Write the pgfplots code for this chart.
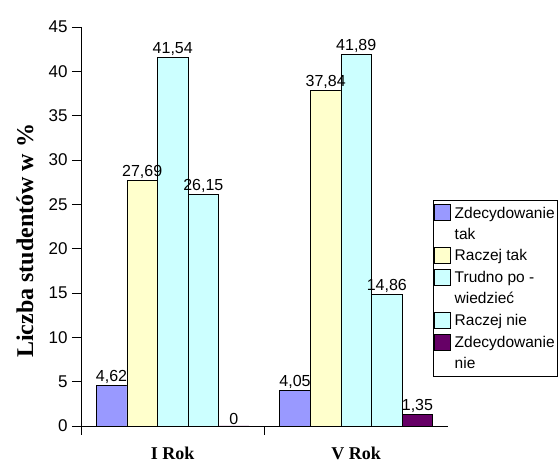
\documentclass[border=0pt]{standalone}
\usepackage{pgfplots}
\pgfplotsset{compat=1.18}
\usepackage{fontspec}
\setmainfont{Liberation Sans}
\newfontfamily\timesfont{Liberation Serif}
\definecolor{c1}{HTML}{9999FF}
\definecolor{c2}{HTML}{FFFFCC}
\definecolor{c3}{HTML}{CCFFFF}
\definecolor{c4}{HTML}{CCFFFF}
\definecolor{c5}{HTML}{660066}
\begin{document}
\begin{tikzpicture}
\begin{axis}[
  at={(0,0)}, anchor=origin,
  scale only axis, width=367pt, height=399pt,
  xmin=0, xmax=2, ymin=0, ymax=45,
  axis lines*=left, axis line style={-, black, line width=0.6pt},
  ytick={0,5,...,45},
  yticklabel style={font=\fontsize{17}{17}\selectfont, xshift=-1pt},
  /pgf/number format/assume math mode=true,
  tick align=outside, major tick length=9pt,
  tick style={black, line width=0.6pt},
  xtick={0,1}, xticklabels={},
  extra x ticks={0.5,1.5},
  extra x tick labels={I Rok, V Rok},
  extra x tick style={tick style={draw=none}, xticklabel style={font=\timesfont\bfseries\fontsize{18}{18}\selectfont, yshift=-8.5pt}},
  ylabel={\timesfont\bfseries\fontsize{24}{24}\selectfont Liczba studentów w \%},
  ylabel style={at={(axis description cs:-0.153,0.464)}, anchor=center},
  ybar, bar width=30.6pt,
  every axis plot/.append style={draw=black, line width=0.5pt},
  nodes near coords={\pgfmathprintnumber[use comma,fixed,precision=2,assume math mode=true]{\pgfplotspointmeta}},
  every node near coord/.append style={font=\fontsize{16}{16}\selectfont, inner sep=1.5pt, black},
  clip=false,
  legend style={at={(axis description cs:0.959,0.566)}, anchor=north west,
    draw=black, line width=0.5pt, font=\fontsize{15.5}{15.5}\selectfont,
    row sep=4.5pt, column sep=2pt, inner xsep=1pt, inner ysep=4pt,
    cells={anchor=west}},
  legend image code/.code={\draw[#1, line width=0.5pt] (0pt,-7.5pt) rectangle (16pt,8.5pt);},
]
\addplot[fill=c1, bar shift=-61.2pt, forget plot] coordinates {(0.5,4.62) (1.5,4.05)};
\addplot[fill=c2, bar shift=-30.6pt, forget plot] coordinates {(0.5,27.69) (1.5,37.84)};
\addplot[fill=c3, bar shift=0pt, forget plot] coordinates {(0.5,41.54) (1.5,41.89)};
\addplot[fill=c4, bar shift=30.6pt, forget plot] coordinates {(0.5,26.15) (1.5,14.86)};
\addplot[fill=c5, bar shift=61.2pt, forget plot] coordinates {(0.5,0) (1.5,1.35)};
\addlegendimage{fill=c1, draw=black}\addlegendentry{Zdecydowanie}
\addlegendimage{empty legend}\addlegendentry{tak}
\addlegendimage{fill=c2, draw=black}\addlegendentry{Raczej tak}
\addlegendimage{fill=c3, draw=black}\addlegendentry{Trudno po -}
\addlegendimage{empty legend}\addlegendentry{wiedzieć}
\addlegendimage{fill=c4, draw=black}\addlegendentry{Raczej nie}
\addlegendimage{fill=c5, draw=black}\addlegendentry{Zdecydowanie}
\addlegendimage{empty legend}\addlegendentry{nie}
\end{axis}
\pgfresetboundingbox
\path (-81pt,-38pt) rectangle (477pt,426pt);
\end{tikzpicture}
\end{document}
